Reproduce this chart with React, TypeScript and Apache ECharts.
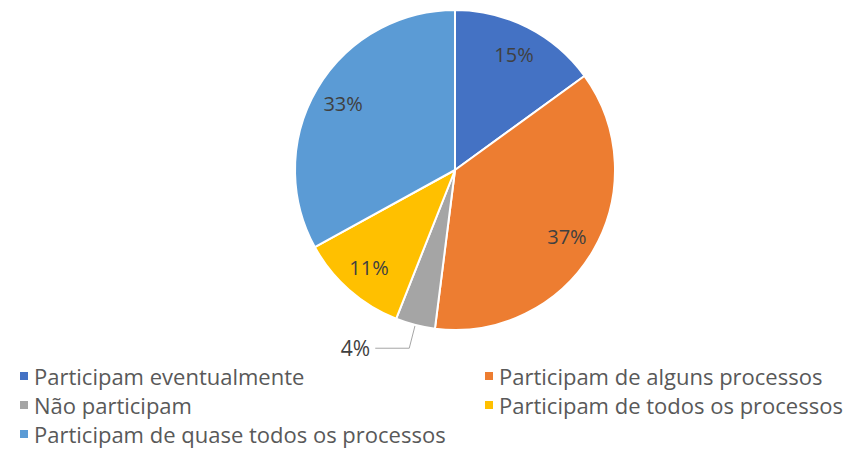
import React, { useEffect, useRef } from "react";
import * as echarts from "echarts";

const categories = [
  "Participam eventualmente",
  "Participam de alguns processos",
  "Não participam",
  "Participam de todos os processos",
  "Participam de quase todos os processos",
];
const values = [15, 37, 4, 11, 33];
const colors = ["#4472C4", "#ED7D31", "#A5A5A5", "#FFC000", "#5B9BD5"];
const outsideLabel = [false, false, true, false, false];

const FONT = "'Open Sans', 'Liberation Sans', sans-serif";

export default function App() {
  const ref = useRef<HTMLDivElement>(null);
  useEffect(() => {
    document.body.style.margin = "0";
    const chart = echarts.init(ref.current!, null, { renderer: "svg" });
    const center = [455, 170];
    const mainData = categories.map((name, i) => ({
      name,
      value: values[i],
      itemStyle: { color: colors[i] },
      label: outsideLabel[i]
        ? { show: true, position: "outside" }
        : { show: false },
      labelLine: { show: outsideLabel[i] },
    }));
    const overlayData = categories.map((name, i) => ({
      name,
      value: values[i],
      itemStyle: { color: "transparent", borderWidth: 0 },
      label: { show: !outsideLabel[i] },
    }));
    const legendText = { fontSize: 22, lineHeight: 22, color: "#595959", fontFamily: FONT };
    chart.setOption({
      animation: false,
      textStyle: { fontFamily: FONT },
      legend: [
        {
          data: [categories[0], categories[2], categories[4]],
          orient: "vertical",
          left: 18,
          top: 365,
          icon: "rect",
          itemWidth: 10,
          itemHeight: 10,
          itemGap: 7,
          padding: 0,
          textStyle: legendText,
        },
        {
          data: [categories[1], categories[3]],
          orient: "vertical",
          left: 483,
          top: 365,
          icon: "rect",
          itemWidth: 10,
          itemHeight: 10,
          itemGap: 7,
          padding: 0,
          textStyle: legendText,
        },
      ],
      series: [
        {
          type: "pie",
          center,
          radius: [0, 160],
          startAngle: 90,
          clockwise: true,
          itemStyle: { borderColor: "#ffffff", borderWidth: 2 },
          label: {
            formatter: "{d}%",
            fontSize: 21,
            color: "#404040",
            fontFamily: FONT,
          },
          labelLine: {
            length: 24,
            length2: 34,
            lineStyle: { color: "#A6A6A6", width: 1 },
          },
          emphasis: { disabled: true },
          data: mainData,
        },
        {
          type: "pie",
          center,
          radius: [94, 160],
          startAngle: 90,
          clockwise: true,
          silent: true,
          label: {
            position: "inside",
            formatter: "{d}%",
            fontSize: 20,
            color: "#404040",
            fontFamily: FONT,
          },
          labelLine: { show: false },
          emphasis: { disabled: true },
          data: overlayData,
        },
      ],
    });
    return () => chart.dispose();
  }, []);
  return (
    <div
      ref={ref}
      style={{ position: "absolute", left: 0, top: 0, width: 859, height: 450, background: "#fff" }}
    />
  );
}
